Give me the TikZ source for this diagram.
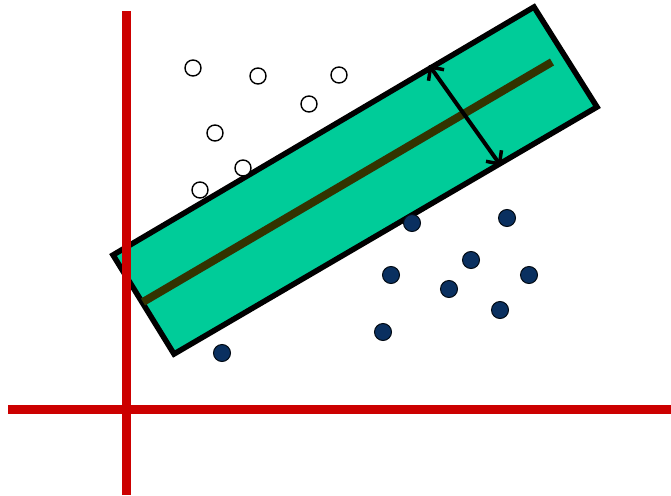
\documentclass[tikz,border=0pt]{standalone}
\usetikzlibrary{arrows.meta}
\definecolor{boxgreen}{RGB}{0,204,153}
\definecolor{axisred}{RGB}{204,0,0}
\definecolor{lineolive}{RGB}{51,51,0}
\definecolor{dotnavy}{RGB}{10,48,96}
\tikzset{
  opendot/.style={circle,draw=black,fill=white,line width=1.4pt,minimum size=16pt,inner sep=0pt},
  fulldot/.style={circle,draw=black!80!dotnavy,fill=dotnavy,line width=1pt,minimum size=17pt,inner sep=0pt},
  axis/.style={draw=axisred,line width=9pt},
  marginbox/.style={draw=black,fill=boxgreen,line width=5.5pt,line join=miter},
  hyperplane/.style={draw=lineolive,line width=8pt},
  marginarrow/.style={draw=black,line width=4pt,{Straight Barb[length=10pt,width=19pt,line width=3.5pt]}-{Straight Barb[length=10pt,width=19pt,line width=3.5pt]}}
}
\begin{document}
\begin{tikzpicture}[x=1pt,y=-1pt]
\useasboundingbox (0,0) rectangle (671,495);
% margin box
\coordinate (tl) at (113,255);
\coordinate (tr) at (534,7);
\coordinate (br) at (597,107);
\coordinate (bl) at (174,354);
\path[marginbox] (tl) -- (tr) -- (br) -- (bl) -- cycle;
% hyperplane
\coordinate (h1) at (143,302);
\coordinate (h2) at (552,62);
\draw[hyperplane] (h1) -- (h2);
% margin arrow
\coordinate (m1) at (429,65);
\coordinate (m2) at (501,166);
\draw[marginarrow] (m1) -- (m2);
% open points
\node[opendot] (o1) at (193,68) {};
\node[opendot] (o2) at (258,76) {};
\node[opendot] (o3) at (339,75) {};
\node[opendot] (o4) at (309,104) {};
\node[opendot] (o5) at (215,133) {};
\node[opendot] (o6) at (243,168) {};
\node[opendot] (o7) at (200,190) {};
% filled points
\node[fulldot] (f1) at (412,223) {};
\node[fulldot] (f2) at (507,218) {};
\node[fulldot] (f3) at (471,260) {};
\node[fulldot] (f4) at (391,275) {};
\node[fulldot] (f5) at (529,275) {};
\node[fulldot] (f6) at (449,289) {};
\node[fulldot] (f7) at (500,310) {};
\node[fulldot] (f8) at (383,332) {};
\node[fulldot] (f9) at (222,353) {};
% axes
\coordinate (yb) at (126,495);
\coordinate (yt) at (126,11);
\coordinate (xl) at (8,409);
\coordinate (xr) at (671,409);
\draw[axis] (xl) -- (xr);
\draw[axis] (yb) -- (yt);
\end{tikzpicture}
\end{document}
